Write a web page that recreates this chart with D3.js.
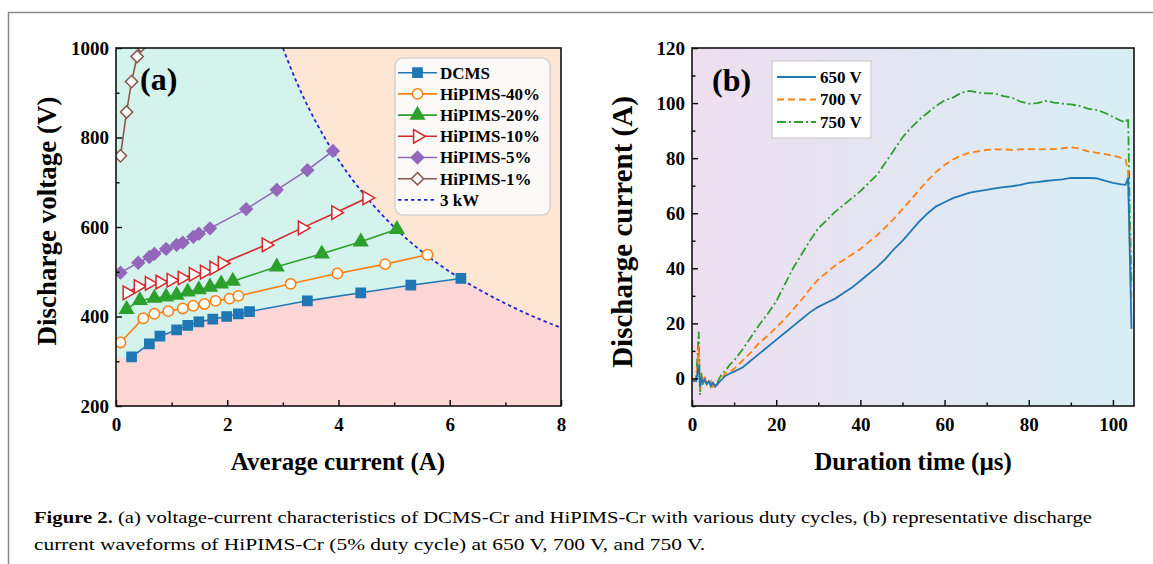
<!DOCTYPE html>
<html>
<head>
<meta charset="utf-8">
<script src="https://cdn.jsdelivr.net/npm/d3@7"></script>
<style>
  body { margin: 0; background: #fff; }
  svg text { font-family: "Liberation Serif", "Times New Roman", serif; fill: #000; }
</style>
</head>
<body>
<svg id="fig" width="1153" height="564"></svg>
<script>
// ---- panel (a): voltage vs average current
const dcmsI = [0.28, 0.6, 0.79, 1.09, 1.29, 1.49, 1.74, 1.99, 2.2, 2.4, 3.44, 4.4, 5.3, 6.2];
const dcmsV = [310, 339, 356, 370, 380, 388, 394, 400, 406, 411, 435, 453, 470, 485];
const hip40I = [0.08, 0.49, 0.69, 0.94, 1.2, 1.39, 1.59, 1.79, 2.04, 2.2, 3.14, 3.98, 4.84, 5.6];
const hip40V = [342, 396, 406, 412, 418, 424, 428, 435, 440, 446, 473, 496, 517, 538];
const hip20I = [0.19, 0.43, 0.69, 0.9, 1.09, 1.29, 1.49, 1.69, 1.89, 2.1, 2.89, 3.7, 4.4, 5.05];
const hip20V = [416, 436, 441, 444, 448, 455, 460, 466, 473, 479, 511, 540, 567, 595];
const hip10I = [0.2, 0.4, 0.6, 0.79, 0.99, 1.19, 1.39, 1.59, 1.76, 1.91, 2.7, 3.35, 3.95, 4.51];
const hip10V = [453, 467, 474, 477, 481, 486, 494, 499, 508, 519, 560, 598, 632, 665];
const hip5I = [0.08, 0.4, 0.6, 0.69, 0.9, 1.09, 1.2, 1.39, 1.49, 1.69, 2.34, 2.89, 3.44, 3.9];
const hip5V = [498, 520, 533, 540, 551, 560, 565, 578, 585, 597, 640, 683, 727, 770];
const hip1I = [0.08, 0.19, 0.28, 0.38, 0.45];
const hip1V = [759, 857, 925, 981, 1005];
// 3 kW constant power line
const powI = [3.0, 3.25, 3.5, 3.75, 4.0, 4.25, 4.5, 5.0, 5.5, 6.0, 6.2, 6.5, 7.0, 7.5, 8.0];
const powV = [1000, 923, 857, 800, 750, 706, 667, 600, 545, 500, 484, 462, 429, 400, 375];
const pinkFloorV = 308;

const seriesA = [
  { name: "DCMS", I: dcmsI, V: dcmsV, color: "#1f77b4", sym: "square", open: false },
  { name: "HiPIMS-40%", I: hip40I, V: hip40V, color: "#ff7f0e", sym: "circle", open: true },
  { name: "HiPIMS-20%", I: hip20I, V: hip20V, color: "#2ca02c", sym: "triangle", open: false },
  { name: "HiPIMS-10%", I: hip10I, V: hip10V, color: "#d62728", sym: "right", open: true },
  { name: "HiPIMS-5%", I: hip5I, V: hip5V, color: "#9467bd", sym: "diamond", open: false },
  { name: "HiPIMS-1%", I: hip1I, V: hip1V, color: "#8c564b", sym: "diamond", open: true }
];

// ---- panel (b): discharge current waveforms
const timeUs = [0, 0.5, 1, 1.3, 1.6, 1.9, 2.2, 2.6, 3, 3.5, 4, 4.5, 5, 5.5, 6, 7, 8, 9, 10, 12, 14, 16, 18, 20,
  22, 24, 26, 28, 30, 32, 34, 36, 38, 40, 42, 44, 46, 48, 50, 52, 54, 56, 58, 60, 62, 64, 66, 68, 70,
  72, 74, 76, 78, 80, 82, 84, 86, 88, 90, 92, 94, 96, 98, 100, 102, 103, 103.6, 104, 104.4];
const cur650 = [-0.5, -0.8, -1, 2, 5, -3, 0, -1.5, -0.5, -2, -1, -2.5, -1.5, -3, -2, -0.5, 1, 1.8, 2.5, 4, 6.5, 9, 11.5, 14,
  16.5, 19, 21.5, 24, 26, 27.5, 29, 31, 33, 35.5, 38, 40.5, 43.5, 47, 50, 53.5, 57, 60, 62.5, 64, 65.5, 66.5, 67.5, 68, 68.5,
  69, 69.5, 69.8, 70.3, 71, 71.3, 71.7, 72, 72.3, 72.8, 72.8, 72.8, 72.7, 71.8, 71, 70.5, 70.3, 73, 45, 18];
const cur700 = [-0.5, -1, 0, 5, 12, -4, 1, -2, 0, -1.5, -2, -1, -3, -2, -2.5, 0, 2, 2.5, 3.5, 6.5, 9.5, 13, 15.5, 18.5,
  21.5, 25, 28.5, 32.5, 36, 38.5, 41, 43, 45, 47, 49.5, 52, 55, 58, 61.5, 65, 68.5, 72, 75, 77.5, 79.5, 81, 82, 82.5, 83,
  83.2, 83.2, 83, 83.2, 83.3, 83.2, 83.3, 83.3, 83.6, 84, 83.5, 82.5, 82, 81.5, 81, 80, 79.5, 75, 50, 28];
const cur750 = [-0.5, -1, 0.5, 8, 17, -6, 2, -2.5, 0.5, -2, -1, -3, -1.5, -2.5, -1.5, 1.5, 3, 5, 6.5, 10.5, 15, 19.5, 23.5, 28,
  34, 40, 45, 50, 54.5, 57.5, 60.5, 63, 65.5, 68, 71, 74, 78.5, 83, 87.5, 91, 94, 96.5, 99, 101, 102, 103.8, 104.4, 103.8, 103.5,
  103.5, 102.5, 102, 100.5, 99.8, 100, 100.8, 100.2, 99.8, 99.5, 99, 98, 97.5, 96.5, 95, 93.5, 93, 94.5, 60, 35];

const seriesB = [
  { name: "650 V", y: cur650, color: "#1f77b4", dash: null },
  { name: "700 V", y: cur700, color: "#ff7f0e", dash: "7,4" },
  { name: "750 V", y: cur750, color: "#2ca02c", dash: "9,3,2,3" }
];

const svg = d3.select("#fig");

// outer figure frame
svg.append("path")
  .attr("d", "M8.5,564 V12.5 H1153")
  .attr("fill", "none")
  .attr("stroke", "#8a8a8a")
  .attr("stroke-width", 1.5);

const defs = svg.append("defs");

function marker(sym) {
  if (sym === "square") return d3.symbol(d3.symbolSquare, 85)();
  if (sym === "circle") return d3.symbol(d3.symbolCircle, 85)();
  if (sym === "triangle") return d3.symbol(d3.symbolTriangle, 80)();
  if (sym === "right") return d3.symbol(d3.symbolTriangle, 80)();
  return d3.symbol(d3.symbolSquare, 75)();
}
function markerRot(sym) {
  if (sym === "right") return 90;
  if (sym === "diamond") return 45;
  return 0;
}

function drawAxes(g, x, y, xMaj, xMin, yMaj, yMin) {
  const [x0, x1] = x.range();
  const [y0, y1] = y.range();
  const bottom = g.append("g").attr("transform", `translate(0,${y0})`);
  bottom.call(d3.axisBottom(x).tickValues(xMaj).tickSize(-6).tickSizeOuter(0).tickPadding(12).tickFormat(d3.format("d")));
  bottom.append("g").call(d3.axisBottom(x).tickValues(xMin).tickSize(-3.5).tickSizeOuter(0).tickFormat(""));
  const left = g.append("g").attr("transform", `translate(${x0},0)`);
  left.call(d3.axisLeft(y).tickValues(yMaj).tickSize(-6).tickSizeOuter(0).tickPadding(7).tickFormat(d3.format("d")));
  left.append("g").call(d3.axisLeft(y).tickValues(yMin).tickSize(-3.5).tickSizeOuter(0).tickFormat(""));
  g.selectAll(".domain").remove();
  g.selectAll(".tick line").attr("stroke", "#000").attr("stroke-width", 1.4);
  g.selectAll(".tick text").style("font-size", "19px").style("font-weight", "bold").attr("fill", "#000");
  g.append("rect")
    .attr("x", x0).attr("y", y1)
    .attr("width", x1 - x0).attr("height", y0 - y1)
    .attr("fill", "none").attr("stroke", "#111").attr("stroke-width", 1.6);
}

// ================= panel (a)
const xA = d3.scaleLinear().domain([0, 8]).range([116, 561]);
const yA = d3.scaleLinear().domain([200, 1000]).range([406, 48]);

defs.append("clipPath").attr("id", "clipA").append("rect")
  .attr("x", 116).attr("y", 48).attr("width", 445).attr("height", 358);

const gA = svg.append("g");
const plotA = gA.append("g").attr("clip-path", "url(#clipA)");

// background regions
plotA.append("rect")
  .attr("x", xA(0)).attr("y", yA(1000))
  .attr("width", xA(8) - xA(0)).attr("height", yA(200) - yA(1000))
  .attr("fill", "#d3f3ec");

const powPts = powI.map((d, i) => [d, powV[i]]);
const peachPts = powPts.concat([[8, 1000]]);
plotA.append("path")
  .attr("d", d3.line().x(d => xA(d[0])).y(d => yA(d[1]))(peachPts) + "Z")
  .attr("fill", "#fde6d3");

const pinkPts = [[0, 200], [0, pinkFloorV]]
  .concat(dcmsI.map((d, i) => [d, dcmsV[i]]))
  .concat(powPts.filter(p => p[0] > dcmsI[dcmsI.length - 1]))
  .concat([[8, 200]]);
plotA.append("path")
  .attr("d", d3.line().x(d => xA(d[0])).y(d => yA(d[1]))(pinkPts) + "Z")
  .attr("fill", "#fdd6d6");

// 3 kW line
plotA.append("path")
  .attr("d", d3.line().curve(d3.curveMonotoneX).x(d => xA(d[0])).y(d => yA(d[1]))(powPts))
  .attr("fill", "none")
  .attr("stroke", "#2424c8")
  .attr("stroke-width", 1.8)
  .attr("stroke-dasharray", "3.5,3");

seriesA.forEach(s => {
  const pts = s.I.map((d, i) => [d, s.V[i]]);
  plotA.append("path")
    .attr("d", d3.line().x(d => xA(d[0])).y(d => yA(d[1]))(pts))
    .attr("fill", "none")
    .attr("stroke", s.color)
    .attr("stroke-width", 1.6);
  plotA.selectAll(null)
    .data(pts)
    .enter()
    .append("path")
    .attr("d", marker(s.sym))
    .attr("transform", d => `translate(${xA(d[0])},${yA(d[1])}) rotate(${markerRot(s.sym)})`)
    .attr("fill", s.open ? "#fff" : s.color)
    .attr("stroke", s.color)
    .attr("stroke-width", 1.5);
});

drawAxes(gA, xA, yA, [0, 2, 4, 6, 8], [1, 3, 5, 7], [200, 400, 600, 800, 1000], [300, 500, 700, 900]);

gA.append("text")
  .attr("x", 140).attr("y", 90)
  .style("font-size", "32px").style("font-weight", "bold")
  .text("(a)");

gA.append("text")
  .attr("x", 338).attr("y", 470)
  .attr("text-anchor", "middle")
  .style("font-size", "25px").style("font-weight", "bold")
  .text("Average current (A)");

gA.append("text")
  .attr("transform", "translate(56,221) rotate(-90)")
  .attr("text-anchor", "middle")
  .style("font-size", "27px").style("font-weight", "bold")
  .text("Discharge voltage (V)");

// legend (a)
const legA = gA.append("g");
legA.append("rect")
  .attr("x", 395).attr("y", 58).attr("width", 155).attr("height", 157)
  .attr("rx", 8)
  .attr("fill", "#fbfbfb").attr("fill-opacity", 0.94)
  .attr("stroke", "#d2d2d2").attr("stroke-width", 1.5);
seriesA.forEach((s, i) => {
  const yy = 72.7 + i * 21.2;
  legA.append("line")
    .attr("x1", 398).attr("x2", 437).attr("y1", yy).attr("y2", yy)
    .attr("stroke", s.color).attr("stroke-width", 1.6);
  legA.append("path")
    .attr("d", marker(s.sym))
    .attr("transform", `translate(417.5,${yy}) rotate(${markerRot(s.sym)})`)
    .attr("fill", s.open ? "#fff" : s.color)
    .attr("stroke", s.color).attr("stroke-width", 1.5);
  legA.append("text")
    .attr("x", 440).attr("y", yy).attr("dy", "0.35em")
    .style("font-size", "17px").style("font-weight", "bold")
    .text(s.name);
});
{
  const yy = 72.7 + 6 * 21.2;
  legA.append("line")
    .attr("x1", 398).attr("x2", 437).attr("y1", yy).attr("y2", yy)
    .attr("stroke", "#2424c8").attr("stroke-width", 1.8).attr("stroke-dasharray", "3.5,3");
  legA.append("text")
    .attr("x", 440).attr("y", yy).attr("dy", "0.35em")
    .style("font-size", "17px").style("font-weight", "bold")
    .text("3 kW");
}

// ================= panel (b)
const xB = d3.scaleLinear().domain([0, 105]).range([692, 1134]);
const yB = d3.scaleLinear().domain([-10, 120]).range([406, 48]);

defs.append("clipPath").attr("id", "clipB").append("rect")
  .attr("x", 692).attr("y", 48).attr("width", 442).attr("height", 358);

const grad = defs.append("linearGradient")
  .attr("id", "bgB")
  .attr("x1", "0%").attr("x2", "100%").attr("y1", "0%").attr("y2", "0%");
grad.append("stop").attr("offset", "0%").style("stop-color", "#eedff0");
grad.append("stop").attr("offset", "100%").style("stop-color", "#d8eef4");

const gB = svg.append("g");
const plotB = gB.append("g").attr("clip-path", "url(#clipB)");
plotB.append("rect")
  .attr("x", 692).attr("y", 48).attr("width", 442).attr("height", 358)
  .attr("fill", "url(#bgB)");

seriesB.slice().reverse().forEach(s => {
  plotB.append("path")
    .attr("d", d3.line().x((d, i) => xB(timeUs[i])).y(d => yB(d))(s.y))
    .attr("fill", "none")
    .attr("stroke", s.color)
    .attr("stroke-width", 1.8)
    .attr("stroke-dasharray", s.dash);
});

drawAxes(gB, xB, yB, [0, 20, 40, 60, 80, 100], [10, 30, 50, 70, 90],
  [0, 20, 40, 60, 80, 100, 120], [-10, 10, 30, 50, 70, 90, 110]);

gB.append("text")
  .attr("x", 712).attr("y", 91)
  .style("font-size", "32px").style("font-weight", "bold")
  .text("(b)");

gB.append("text")
  .attr("x", 913).attr("y", 470)
  .attr("text-anchor", "middle")
  .style("font-size", "25px").style("font-weight", "bold")
  .text("Duration time (\u00b5s)");

gB.append("text")
  .attr("transform", "translate(632,232) rotate(-90)")
  .attr("text-anchor", "middle")
  .style("font-size", "29px").style("font-weight", "bold")
  .text("Discharge current (A)");

const legB = gB.append("g");
legB.append("rect")
  .attr("x", 772).attr("y", 61).attr("width", 99).attr("height", 77)
  .attr("fill", "#fff")
  .attr("stroke", "#cfcfcf").attr("stroke-width", 1.3);
seriesB.forEach((s, i) => {
  const yy = 77 + i * 22.5;
  legB.append("line")
    .attr("x1", 777).attr("x2", 816).attr("y1", yy).attr("y2", yy)
    .attr("stroke", s.color).attr("stroke-width", 1.8)
    .attr("stroke-dasharray", s.dash);
  legB.append("text")
    .attr("x", 820).attr("y", yy).attr("dy", "0.35em")
    .style("font-size", "17px").style("font-weight", "bold")
    .text(s.name);
});

// ================= caption
const cap1 = svg.append("text")
  .attr("x", 34).attr("y", 523)
  .attr("textLength", 1058).attr("lengthAdjust", "spacingAndGlyphs")
  .style("font-size", "17.5px").attr("fill", "#1a1a1a");
cap1.append("tspan").style("font-weight", "bold").text("Figure 2.");
cap1.append("tspan").text(" (a) voltage-current characteristics of DCMS-Cr and HiPIMS-Cr with various duty cycles, (b) representative discharge");

svg.append("text")
  .attr("x", 34).attr("y", 550)
  .attr("textLength", 671).attr("lengthAdjust", "spacingAndGlyphs")
  .style("font-size", "17.5px").attr("fill", "#1a1a1a")
  .text("current waveforms of HiPIMS-Cr (5% duty cycle) at 650 V, 700 V, and 750 V.");
</script>
</body>
</html>
